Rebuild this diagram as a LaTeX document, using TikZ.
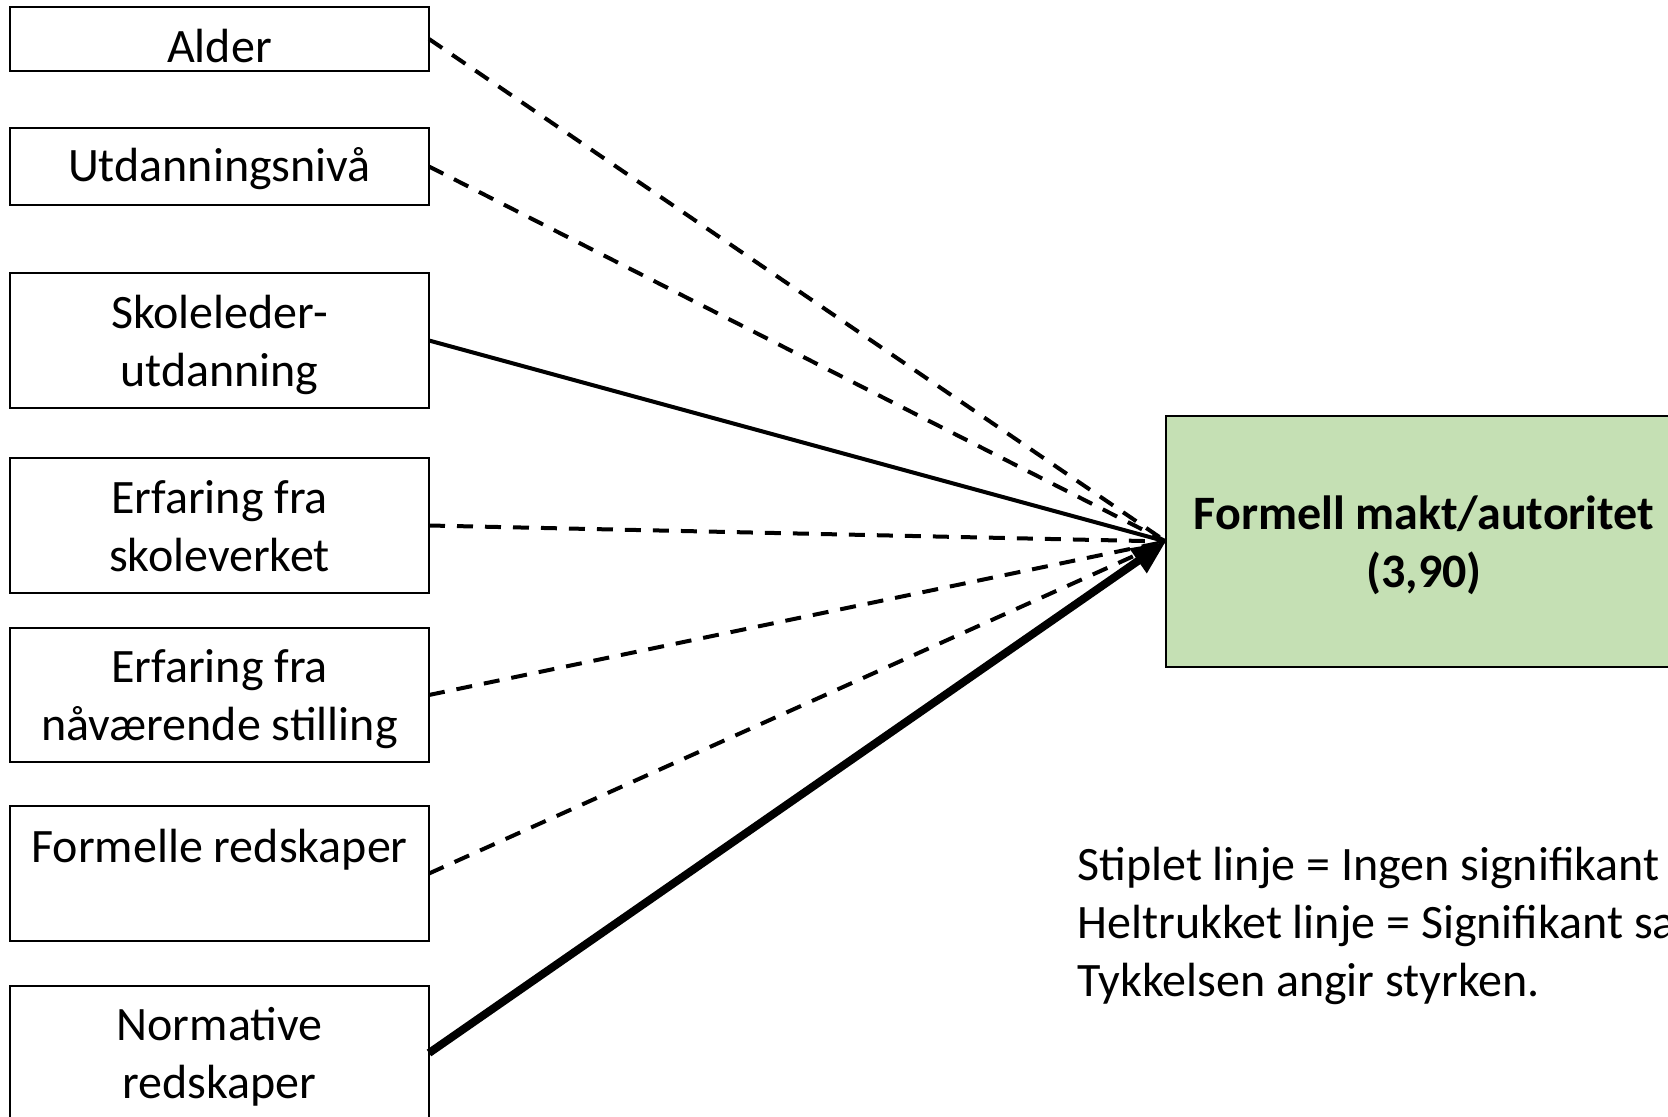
\documentclass[tikz,border=0pt]{standalone}
\usepackage{fontspec}
\setmainfont{Carlito}
\usetikzlibrary{arrows.meta}
\definecolor{boxgreen}{RGB}{197,224,180}
\begin{document}
\begin{tikzpicture}[x=0.5pt,y=-0.5pt,
  lbox/.style={draw=black,line width=1pt,minimum width=209.5pt,inner sep=0pt,outer sep=0pt},
  lbl/.style={align=center,inner sep=0pt,font=\fontsize{24}{29}\selectfont},
  target/.style={draw=black,line width=1pt,fill=boxgreen,minimum width=258pt,minimum height=125.5pt,
    inner sep=0pt,outer sep=0pt},
  tlbl/.style={align=center,inner sep=0pt,font=\fontsize{24}{29}\selectfont\bfseries},
  nsig/.style={line width=2pt,dash pattern=on 8pt off 6pt},
  sig/.style={line width=2pt},
  strong/.style={line width=4pt,-{Triangle[length=17pt,width=14pt]}}]
\useasboundingbox (0,0) rectangle (1668,1117);
\clip (0,0) rectangle (1668,1117);
\node[lbox,minimum height=32pt,label={[lbl,yshift=-3.7pt]center:Alder}] (alder) at (219.5,39) {};
\node[lbox,minimum height=38.5pt,label={[lbl,yshift=-1pt]center:Utdanningsnivå}] (utd) at (219.5,166.5) {};
\node[lbox,minimum height=67.5pt,label={[lbl,yshift=-2.1pt]center:Skoleleder-\\utdanning}] (skl) at (219.5,340.5) {};
\node[lbox,minimum height=67.5pt,label={[lbl,yshift=-0.3pt]center:Erfaring fra\\skoleverket}] (skv) at (219.5,525.5) {};
\node[lbox,minimum height=67pt,label={[lbl,yshift=-1.9pt]center:Erfaring fra\\nåværende stilling}] (naa) at (219.5,695) {};
\node[lbox,minimum height=67.5pt,label={[lbl,yshift=-0.5pt]center:Formelle redskaper\\~}] (form) at (219.5,873.5) {};
\node[lbox,minimum height=67pt,label={[lbl,yshift=-2.1pt]center:Normative\\redskaper}] (norm) at (219.5,1053) {};
\node[target,anchor=west,label={[tlbl,yshift=-1.9pt]center:Formell makt/autoritet\\(3,90)}] (fm) at (1166,541.5) {};
\draw[nsig] (alder.east) -- (fm.west);
\draw[nsig] (utd.east) -- (fm.west);
\draw[sig] (skl.east) -- (fm.west);
\draw[nsig] (skv.east) -- (fm.west);
\draw[nsig] (naa.east) -- (fm.west);
\draw[nsig] (form.east) -- (fm.west);
\draw[strong] (norm.east) -- (fm.west);
\node[anchor=west,align=left,inner sep=0pt,font=\fontsize{24}{29}\selectfont] (legend) at (1077,925.8)
  {Stiplet linje = Ingen signifikant\\Heltrukket linje = Signifikant sa\\Tykkelsen angir styrken.};
\end{tikzpicture}
\end{document}
